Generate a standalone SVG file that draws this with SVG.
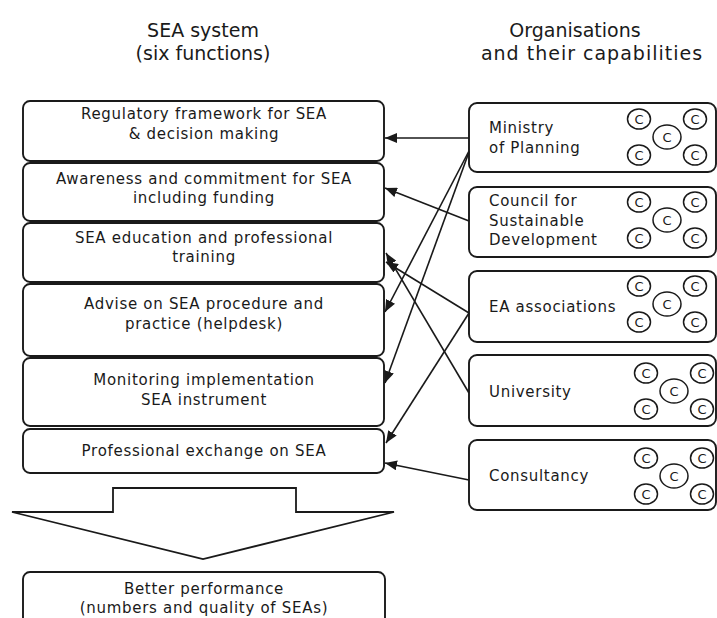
<svg xmlns="http://www.w3.org/2000/svg" width="717" height="618" viewBox="0 0 717 618">
  <style>
    .box { fill: #ffffff; stroke: #1a1a1a; stroke-width: 1.9; }
    .t { font-family: "DejaVu Sans", "Liberation Sans", sans-serif; font-size: 15px; fill: #1a1a1a; letter-spacing: 0.7px; }
    .mid { text-anchor: middle; }
    .title { font-family: "DejaVu Sans", "Liberation Sans", sans-serif; font-size: 19px; fill: #1a1a1a; text-anchor: middle; }
    .cap { fill: #ffffff; stroke: #1a1a1a; stroke-width: 1.5; }
    .c { font-family: "DejaVu Sans", "Liberation Sans", sans-serif; font-size: 13px; fill: #1a1a1a; text-anchor: middle; }
    .link { fill: none; stroke: #1a1a1a; stroke-width: 1.6; marker-end: url(#head); }
  </style>
  <defs>
    <marker id="head" markerUnits="userSpaceOnUse" markerWidth="14" markerHeight="10" refX="12" refY="5" orient="auto">
      <path d="M0,0 L12,5 L0,10 z" fill="#1a1a1a"/>
    </marker>
    <!-- five-capability cluster, drawn around (0,0) -->
    <g id="caps">
      <ellipse class="cap" cx="-28" cy="-18" rx="11.5" ry="10"/>
      <ellipse class="cap" cx="28" cy="-18" rx="11.5" ry="10"/>
      <ellipse class="cap" cx="0" cy="0" rx="14" ry="12"/>
      <ellipse class="cap" cx="-28" cy="18" rx="11.5" ry="10"/>
      <ellipse class="cap" cx="28" cy="18" rx="11.5" ry="10"/>
      <text class="c" x="-28" y="-13">C</text>
      <text class="c" x="28" y="-13">C</text>
      <text class="c" x="0" y="5">C</text>
      <text class="c" x="-28" y="23">C</text>
      <text class="c" x="28" y="23">C</text>
    </g>
  </defs>
  <rect width="717" height="618" fill="#ffffff"/>

  <!-- column headings -->
  <g id="heading-functions">
    <text class="title" x="203" y="37">SEA system</text>
    <text class="title" x="203" y="60">(six functions)</text>
  </g>
  <g id="heading-organisations">
    <text class="title" x="575" y="37">Organisations</text>
    <text class="title" x="592" y="60" letter-spacing="1">and their capabilities</text>
  </g>

  <!-- SEA system functions -->
  <g id="fn-regulatory">
    <rect class="box" x="23" y="101" width="361" height="60" rx="7"/>
    <text class="t mid" x="204" y="119">Regulatory framework for SEA</text>
    <text class="t mid" x="204" y="139">&amp; decision making</text>
  </g>
  <g id="fn-awareness">
    <rect class="box" x="23" y="163" width="361" height="58" rx="7"/>
    <text class="t mid" x="204" y="184">Awareness and commitment for SEA</text>
    <text class="t mid" x="204" y="203">including funding</text>
  </g>
  <g id="fn-education">
    <rect class="box" x="23" y="223" width="361" height="59" rx="7"/>
    <text class="t mid" x="204" y="243">SEA education and professional</text>
    <text class="t mid" x="204" y="262">training</text>
  </g>
  <g id="fn-advise">
    <rect class="box" x="23" y="284" width="361" height="72" rx="7"/>
    <text class="t mid" x="204" y="309">Advise on SEA procedure and</text>
    <text class="t mid" x="204" y="329">practice (helpdesk)</text>
  </g>
  <g id="fn-monitoring">
    <rect class="box" x="23" y="358" width="361" height="68" rx="7"/>
    <text class="t mid" x="204" y="385">Monitoring implementation</text>
    <text class="t mid" x="204" y="405">SEA instrument</text>
  </g>
  <g id="fn-exchange">
    <rect class="box" x="23" y="429" width="361" height="44" rx="7"/>
    <text class="t mid" x="204" y="456">Professional exchange on SEA</text>
  </g>

  <!-- big downward arrow -->
  <g id="result-arrow">
    <polygon points="113,488 296,488 296,512 394,512 203,559 12,512 113,512" fill="#ffffff" stroke="#1a1a1a" stroke-width="1.8" stroke-linejoin="miter"/>
  </g>

  <g id="outcome">
    <rect class="box" x="23" y="572" width="362" height="60" rx="7"/>
    <text class="t mid" x="204" y="594">Better performance</text>
    <text class="t mid" x="204" y="613">(numbers and quality of SEAs)</text>
  </g>

  <!-- organisations -->
  <g id="org-ministry">
    <rect class="box" x="469" y="103" width="247" height="69" rx="8"/>
    <text class="t" x="489" y="133">Ministry</text>
    <text class="t" x="489" y="153">of Planning</text>
    <use href="#caps" x="667" y="137"/>
  </g>
  <g id="org-council">
    <rect class="box" x="469" y="187" width="247" height="70" rx="8"/>
    <text class="t" x="489" y="206">Council for</text>
    <text class="t" x="489" y="226">Sustainable</text>
    <text class="t" x="489" y="245">Development</text>
    <use href="#caps" x="667" y="220"/>
  </g>
  <g id="org-ea">
    <rect class="box" x="469" y="271" width="247" height="71" rx="8"/>
    <text class="t" x="489" y="312">EA associations</text>
    <use href="#caps" x="667" y="304"/>
  </g>
  <g id="org-university">
    <rect class="box" x="469" y="355" width="247" height="71" rx="8"/>
    <text class="t" x="489" y="397">University</text>
    <use href="#caps" x="674" y="391"/>
  </g>
  <g id="org-consultancy">
    <rect class="box" x="469" y="440" width="247" height="70" rx="8"/>
    <text class="t" x="489" y="481">Consultancy</text>
    <use href="#caps" x="674" y="476"/>
  </g>

  <!-- contributions of organisations to functions -->
  <g id="connectors">
    <line class="link" x1="469" y1="138" x2="385" y2="138"/>
    <line class="link" x1="469" y1="221" x2="385" y2="188"/>
    <line class="link" x1="469" y1="151" x2="385" y2="312"/>
    <line class="link" x1="469" y1="152" x2="385" y2="383"/>
    <line class="link" x1="469" y1="313" x2="386" y2="262"/>
    <line class="link" x1="469" y1="393" x2="386" y2="253"/>
    <line class="link" x1="469" y1="313" x2="386" y2="443"/>
    <line class="link" x1="469" y1="480" x2="385" y2="463"/>
  </g>
</svg>
